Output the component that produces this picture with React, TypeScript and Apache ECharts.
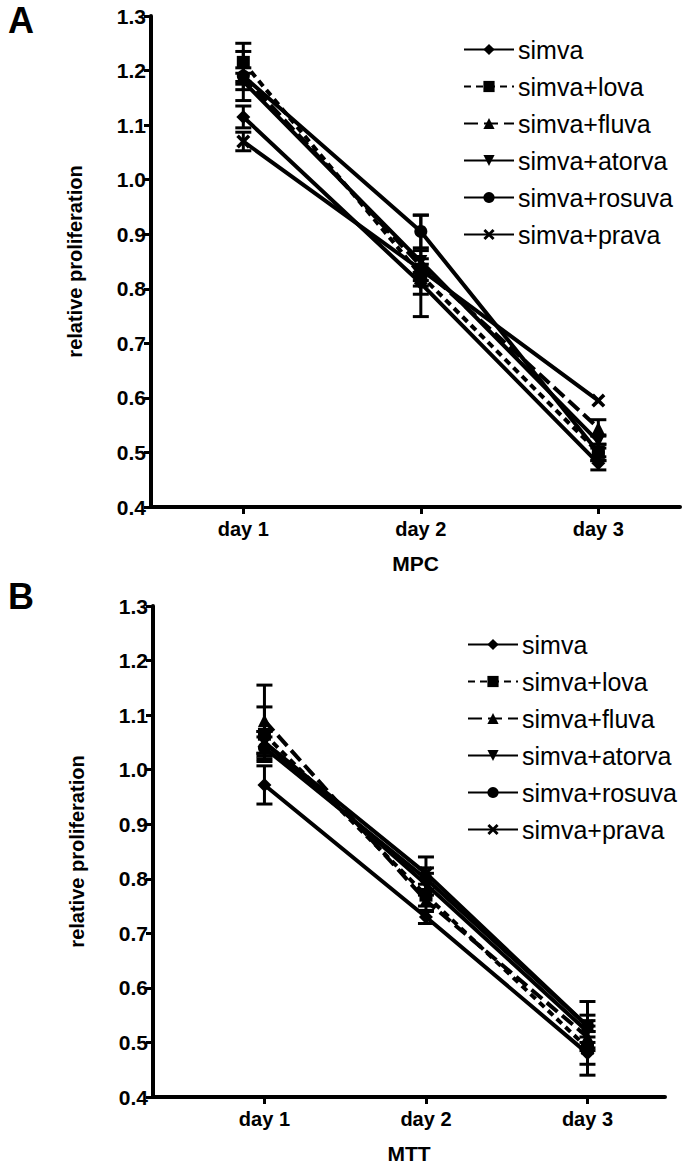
import React, { useEffect, useRef } from "react";
import * as echarts from "echarts";

const days = ["day 1", "day 2", "day 3"];
const dayPositions = [1, 2, 3];
const seriesNames = ["simva", "simva+lova", "simva+fluva", "simva+atorva", "simva+rosuva", "simva+prava"];

// Panel A – MPC
const mpcSimva = [1.115, 0.81, 0.48];
const mpcLova = [1.215, 0.825, 0.5];
const mpcFluva = [1.19, 0.842, 0.545];
const mpcAtorva = [1.18, 0.85, 0.52];
const mpcRosuva = [1.19, 0.905, 0.5];
const mpcPrava = [1.07, 0.835, 0.595];
const mpcSimvaErr = [0.02, 0.02, 0.012];
const mpcLovaErr = [0.035, 0.02, 0.015];
const mpcFluvaErr = [0.045, 0.093, 0.015];
const mpcAtorvaErr = [0.015, 0.02, 0.012];
const mpcRosuvaErr = [0.015, 0.03, 0.015];
const mpcPravaErr = [0.017, 0.02, 0];

// Panel B – MTT
const mttSimva = [0.972, 0.73, 0.48];
const mttLova = [1.065, 0.77, 0.49];
const mttFluva = [1.09, 0.76, 0.51];
const mttAtorva = [1.05, 0.79, 0.52];
const mttRosuva = [1.04, 0.8, 0.53];
const mttPrava = [1.05, 0.81, 0.53];
const mttSimvaErr = [0.035, 0.012, 0.04];
const mttLovaErr = [0.05, 0.02, 0.03];
const mttFluvaErr = [0.065, 0.02, 0.02];
const mttAtorvaErr = [0.02, 0.02, 0.02];
const mttRosuvaErr = [0.02, 0.02, 0.045];
const mttPravaErr = [0.02, 0.03, 0.02];

const yMin = 0.4;
const yMax = 1.3;
const yStep = 0.1;

const DOWN_TRI = "path://M0,0 L10,0 L5,9 Z";
const CROSS =
  "path://M0,1.8 L1.8,0 L5,3.2 L8.2,0 L10,1.8 L6.8,5 L10,8.2 L8.2,10 L5,6.8 L1.8,10 L0,8.2 L3.2,5 Z";

const styles: any[] = [
  { symbol: "diamond", size: 14, type: "solid" },
  { symbol: "rect", size: 13, type: [7, 5] },
  { symbol: "triangle", size: 13, type: [14, 6] },
  { symbol: DOWN_TRI, size: 13, type: "solid" },
  { symbol: "circle", size: 13, type: "solid" },
  { symbol: CROSS, size: 14, type: "solid" },
];

const FONT = "'Liberation Sans', Arial, sans-serif";

function lineSeries(values: number[][], axisIndex: number) {
  return values.map((vals, k) => ({
    type: "line",
    name: seriesNames[k],
    xAxisIndex: axisIndex,
    yAxisIndex: axisIndex,
    data: vals.map((v, i) => [dayPositions[i], v]),
    symbol: styles[k].symbol,
    symbolSize: styles[k].size,
    lineStyle: { color: "#000", width: 4, type: styles[k].type },
    itemStyle: { color: "#000" },
    z: 3,
  }));
}

function errorSeries(values: number[][], errs: number[][], axisIndex: number) {
  const data: number[][] = [];
  values.forEach((vals, k) =>
    vals.forEach((v, i) => {
      if (errs[k][i] > 0) data.push([dayPositions[i], v - errs[k][i], v + errs[k][i]]);
    })
  );
  return {
    type: "custom",
    xAxisIndex: axisIndex,
    yAxisIndex: axisIndex,
    data,
    z: 2,
    renderItem: (params: any, api: any) => {
      const x = api.value(0);
      const lo = api.coord([x, api.value(1)]);
      const hi = api.coord([x, api.value(2)]);
      const w = 8;
      const st = { stroke: "#000", lineWidth: 3 };
      return {
        type: "group",
        children: [
          { type: "line", shape: { x1: lo[0], y1: lo[1], x2: hi[0], y2: hi[1] }, style: st },
          { type: "line", shape: { x1: lo[0] - w, y1: lo[1], x2: lo[0] + w, y2: lo[1] }, style: st },
          { type: "line", shape: { x1: hi[0] - w, y1: hi[1], x2: hi[0] + w, y2: hi[1] }, style: st },
        ],
      };
    },
  };
}

function yAxis(gridIndex: number) {
  return {
    type: "value",
    gridIndex,
    min: yMin,
    max: yMax,
    interval: yStep,
    name: "relative proliferation",
    nameLocation: "middle",
    nameGap: 66,
    nameTextStyle: { fontFamily: FONT, fontWeight: "bold", fontSize: 20, color: "#000" },
    axisLine: { show: true, lineStyle: { color: "#000", width: 4 } },
    axisTick: { show: true, length: 7, lineStyle: { color: "#000", width: 3 } },
    axisLabel: {
      fontFamily: FONT,
      fontWeight: "bold",
      fontSize: 21,
      color: "#000",
      margin: 5,
      formatter: (v: number) => v.toFixed(1),
    },
    splitLine: { show: false },
  };
}

function xAxis(gridIndex: number, min: number, max: number, title: string) {
  return {
    type: "value",
    gridIndex,
    min,
    max,
    name: title,
    nameLocation: "middle",
    nameGap: 46,
    nameTextStyle: { fontFamily: FONT, fontWeight: "bold", fontSize: 21, color: "#000" },
    axisLine: { show: true, onZero: false, lineStyle: { color: "#000", width: 4 } },
    axisTick: { show: true, length: 7, customValues: dayPositions, lineStyle: { color: "#000", width: 3 } },
    axisLabel: {
      customValues: dayPositions,
      fontFamily: FONT,
      fontWeight: "bold",
      fontSize: 20,
      color: "#000",
      margin: 12,
      formatter: (v: number) => days[Math.round(v) - 1],
    },
    splitLine: { show: false },
  };
}

function legend(top: number, left: number) {
  return {
    orient: "vertical",
    left,
    top,
    itemWidth: 50,
    itemHeight: 14,
    itemGap: 12,
    data: seriesNames,
    selectedMode: false,
    textStyle: { fontFamily: FONT, fontSize: 25, color: "#000", padding: [0, 0, 0, -1] },
  };
}

export default function App() {
  const ref = useRef<HTMLDivElement>(null);
  useEffect(() => {
    document.body.style.margin = "0";
    const chart = echarts.init(ref.current!, undefined, { renderer: "svg" });
    const mpc = [mpcSimva, mpcLova, mpcFluva, mpcAtorva, mpcRosuva, mpcPrava];
    const mpcE = [mpcSimvaErr, mpcLovaErr, mpcFluvaErr, mpcAtorvaErr, mpcRosuvaErr, mpcPravaErr];
    const mtt = [mttSimva, mttLova, mttFluva, mttAtorva, mttRosuva, mttPrava];
    const mttE = [mttSimvaErr, mttLovaErr, mttFluvaErr, mttAtorvaErr, mttRosuvaErr, mttPravaErr];
    chart.setOption({
      animation: false,
      backgroundColor: "#fff",
      grid: [
        { left: 151, top: 16, width: 529, height: 491 },
        { left: 153, top: 606, width: 512, height: 491 },
      ],
      xAxis: [xAxis(0, 0.48, 3.46, "MPC"), xAxis(1, 0.31, 3.48, "MTT")],
      yAxis: [yAxis(0), yAxis(1)],
      legend: [legend(32, 458), legend(627, 462)],
      graphic: [
        { type: "text", left: 8, top: 2, style: { text: "A", font: `bold 36px ${FONT}`, fill: "#000" } },
        { type: "text", left: 8, top: 578, style: { text: "B", font: `bold 36px ${FONT}`, fill: "#000" } },
      ],
      series: [
        errorSeries(mpc, mpcE, 0),
        ...lineSeries(mpc, 0),
        errorSeries(mtt, mttE, 1),
        ...lineSeries(mtt, 1),
      ],
    });
    return () => chart.dispose();
  }, []);
  return <div ref={ref} style={{ width: 700, height: 1176 }} />;
}
